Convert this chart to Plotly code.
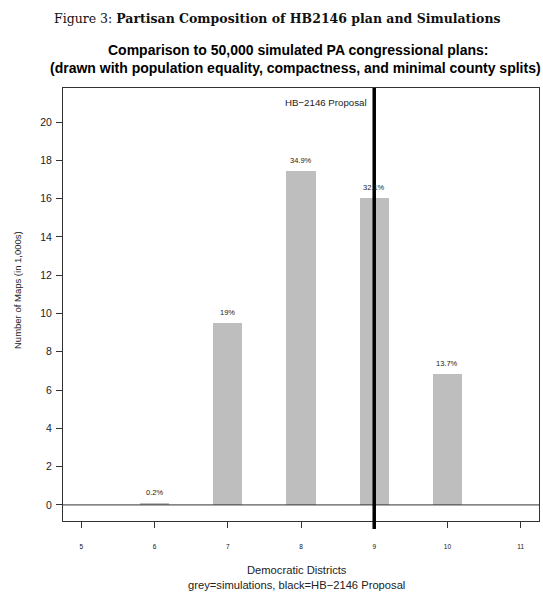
import plotly.graph_objects as go

districts = [6, 7, 8, 9, 10]
maps_thousands = [0.1, 9.5, 17.45, 16.05, 6.85]
pct_labels = ["0.2%", "19%", "34.9%", "32.1%", "13.7%"]
proposal_value = 9
x_ticks = [5, 6, 7, 8, 9, 10, 11]
y_ticks = [0, 2, 4, 6, 8, 10, 12, 14, 16, 18, 20]

W, H = 543, 592
L, R, T, B = 63, 4, 88, 71
PW, PH = W - L - R, H - T - B


def px(x):
    return (x - L) / PW


def py(y):
    return (H - B - y) / PH


fig = go.Figure()
fig.add_trace(go.Bar(
    x=districts, y=maps_thousands, width=0.4,
    marker=dict(color="#BEBEBE", line=dict(width=0)),
    hoverinfo="skip", showlegend=False,
))

for d, v, t in zip(districts, maps_thousands, pct_labels):
    fig.add_annotation(x=d, y=v, text=t, showarrow=False, yanchor="bottom",
                       yshift=4, font=dict(family="Liberation Sans", size=7.5, color="#222"))

# zero baseline
fig.add_shape(type="line", xref="paper", yref="y", x0=0, x1=1, y0=0, y1=0,
              line=dict(color="#333", width=1))

# proposal line
fig.add_shape(type="line", xref="x", yref="paper", x0=proposal_value, x1=proposal_value,
              y0=-8 / PH, y1=1, line=dict(color="black", width=3.5))
fig.add_annotation(x=proposal_value, y=1, xref="x", yref="paper", text="HB\u22122146 Proposal",
                   showarrow=False, xanchor="right", yanchor="top", xshift=-5, yshift=-7,
                   font=dict(family="Liberation Sans", size=9.7, color="#222"))

# figure caption
fig.add_annotation(x=px(277), y=py(18), xref="paper", yref="paper",
                   text="Figure 3: <b>Partisan Composition of HB2146 plan and Simulations</b>",
                   showarrow=False, xanchor="center", yanchor="middle",
                   font=dict(family="DejaVu Serif", size=12.5, color="#111"))
# chart title
fig.add_annotation(x=px(298), y=py(50), xref="paper", yref="paper",
                   text="<b>Comparison to 50,000 simulated PA congressional plans:</b>",
                   showarrow=False, xanchor="center", yanchor="middle",
                   font=dict(family="Liberation Sans", size=14, color="black"))
fig.add_annotation(x=px(295), y=py(68), xref="paper", yref="paper",
                   text="<b>(drawn with population equality, compactness, and minimal county splits)</b>",
                   showarrow=False, xanchor="center", yanchor="middle",
                   font=dict(family="Liberation Sans", size=14, color="black"))
# x titles
fig.add_annotation(x=px(297), y=py(570), xref="paper", yref="paper",
                   text="Democratic Districts", showarrow=False, xanchor="center", yanchor="middle",
                   font=dict(family="Liberation Sans", size=11.2, color="#222"))
fig.add_annotation(x=px(296), y=py(585), xref="paper", yref="paper",
                   text="grey=simulations, black=HB\u22122146 Proposal", showarrow=False,
                   xanchor="center", yanchor="middle",
                   font=dict(family="Liberation Sans", size=11.2, color="#222"))
# y title
fig.add_annotation(x=px(17), y=py(290), xref="paper", yref="paper",
                   text="Number of Maps (in 1,000s)", showarrow=False, textangle=-90,
                   xanchor="center", yanchor="middle",
                   font=dict(family="Liberation Sans", size=9.5, color="#222"))

fig.update_layout(
    width=W, height=H, margin=dict(l=L, r=R, t=T, b=B),
    paper_bgcolor="white", plot_bgcolor="white", bargap=0,
    xaxis=dict(range=[4.75, 11.25], tickvals=x_ticks, ticktext=[str(v) for v in x_ticks],
               showgrid=False, zeroline=False, showline=True, linecolor="#333", linewidth=1,
               mirror=True, ticks="outside", ticklen=6, tickcolor="#333", tickwidth=1,
               ticklabelstandoff=13,
               tickfont=dict(family="Liberation Sans", size=6.5, color="#111")),
    yaxis=dict(range=[-0.84, 21.78], tickvals=y_ticks, showgrid=False, zeroline=False,
               showline=True, linecolor="#333", linewidth=1, mirror=True,
               ticks="outside", ticklen=6, tickcolor="#333", tickwidth=1,
               ticklabelstandoff=2,
               tickfont=dict(family="Liberation Sans", size=10.5, color="#222")),
)

fig.write_html("out.html", config={"displayModeBar": False},
               post_script="document.body.style.margin='0';")
